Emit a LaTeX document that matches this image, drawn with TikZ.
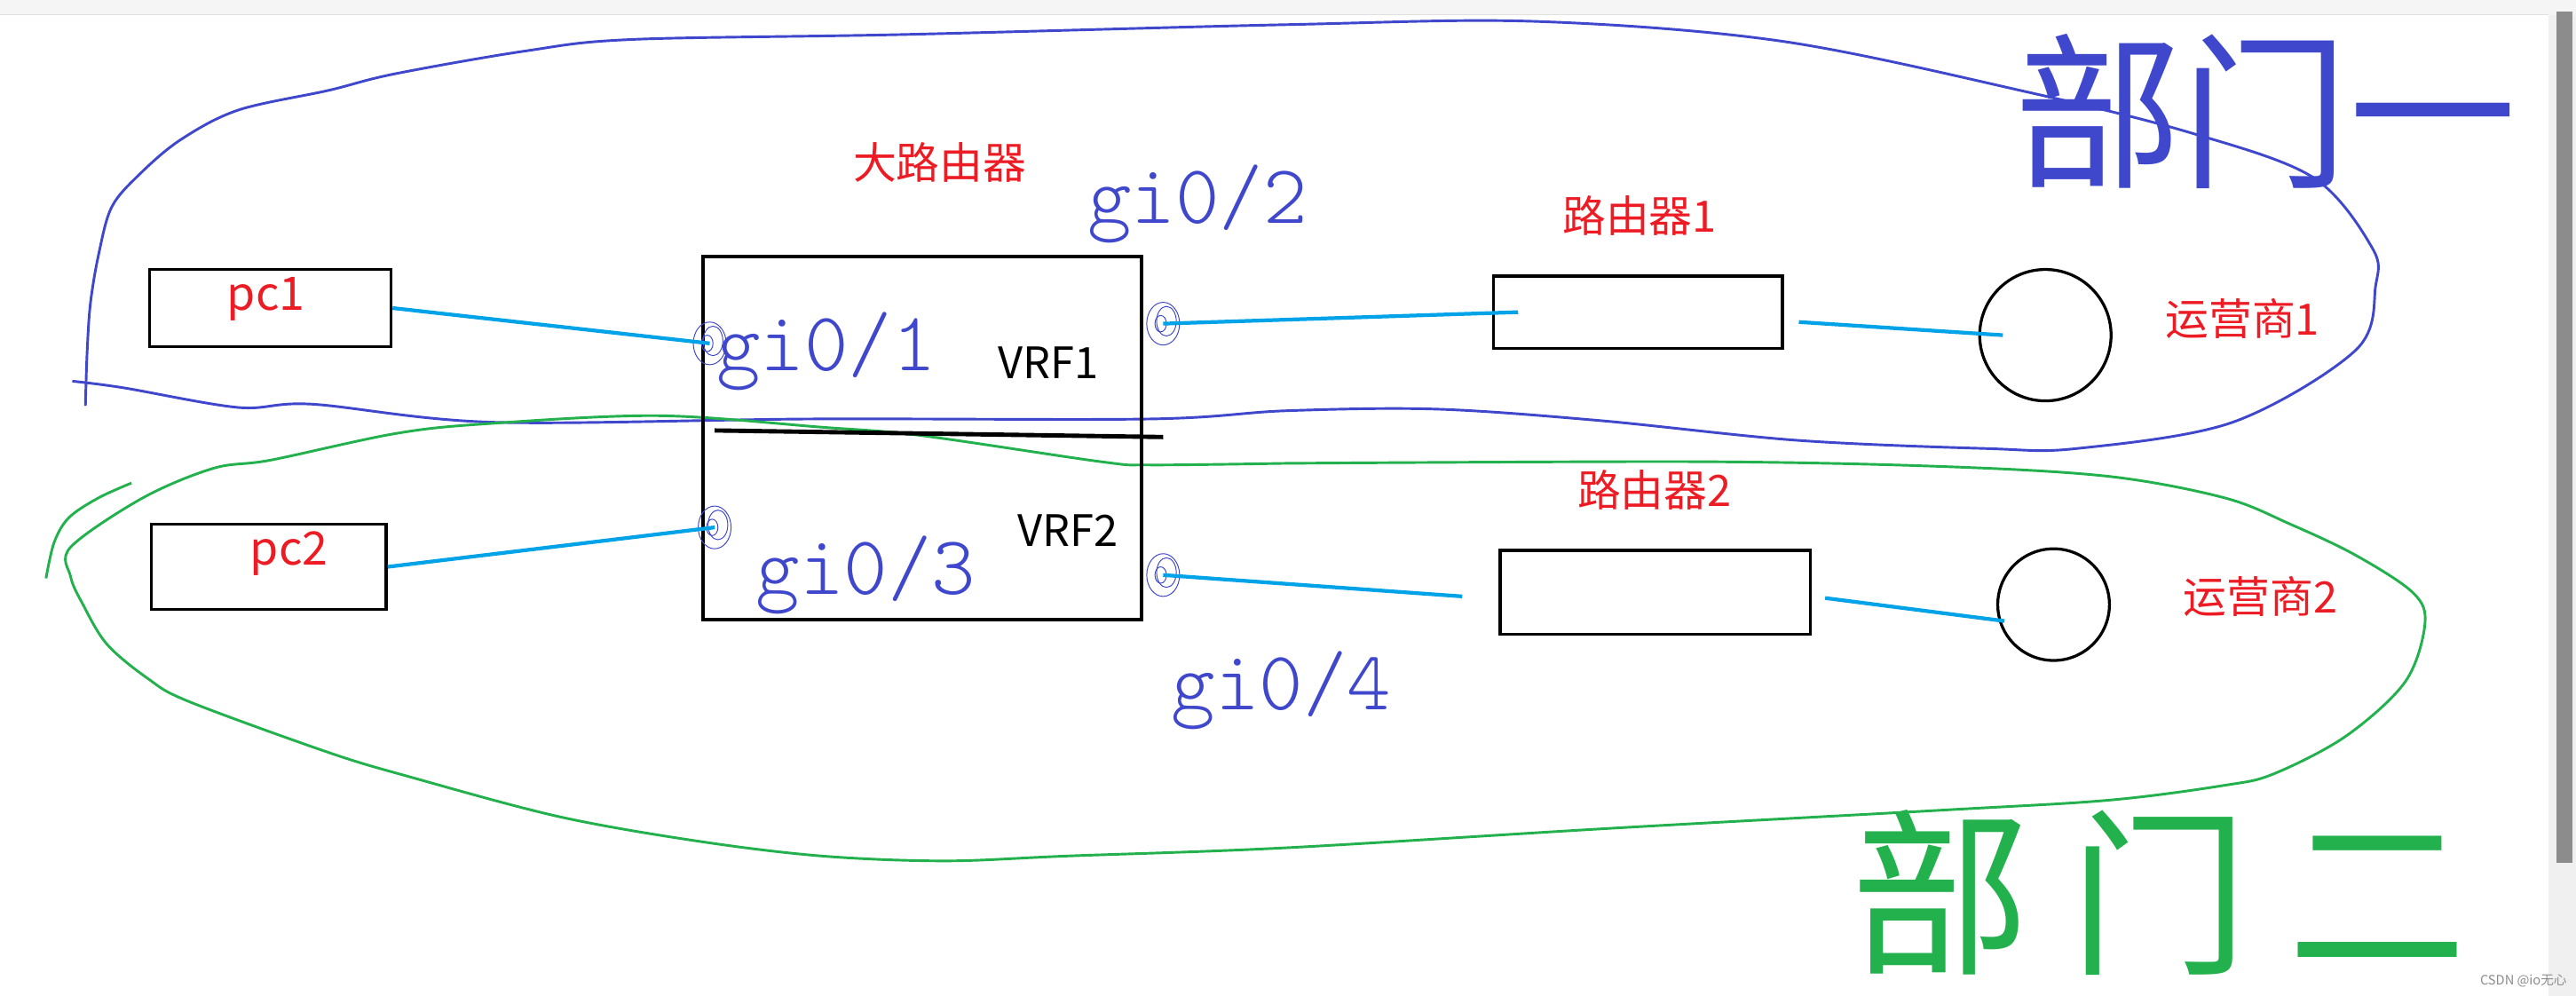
\documentclass[tikz,border=0pt]{standalone}
\usepackage{fontspec}
\setmainfont{Noto Sans CJK SC}
\newfontfamily\handfont{lmmonolt10-regular.otf}
\usetikzlibrary{calc}
\definecolor{LinkClr}{RGB}{0,162,232}
\definecolor{TextClr}{RGB}{237,28,36}
\definecolor{DeptOneClr}{RGB}{63,72,204}
\definecolor{DeptTwoClr}{RGB}{34,177,76}

\begin{document}
\begin{tikzpicture}[x=0.02cm,y=-0.02cm,
  box/.style={draw,line width=1.1pt,inner sep=0pt},
  isp/.style={draw,circle,line width=1pt,inner sep=0pt},
  lbl/.style={text=TextClr,font=\fontsize{15}{18}\selectfont},
  vrf/.style={font=\fontsize{15}{18}\selectfont},
  link/.style={LinkClr,line width=1.3pt},
  hand/.style={DeptOneClr,font=\handfont\fontsize{29}{29}\selectfont},
  port/.style={DeptOneClr,line width=0.3pt},
  loop/.style={line width=0.9pt,smooth,tension=0.55}]

\useasboundingbox (0,0) rectangle (1568,606);
\fill[white] (0,0) rectangle (1568,606);
% window frame
\fill[black!4] (0,0) rectangle (1568,9);
\draw[black!12] (0,9) -- (1551,9);
\fill[black!6] (1551,9) rectangle (1568,606);
\fill[black!45] (1556,7) rectangle (1566,525);

% departments
\draw[DeptOneClr,loop] plot coordinates {(52,247) (53,215) (55,185) (60,155) (68,126)
  (85,106) (110,85) (145,67) (200,55) (240,45) (320,31) (385,24) (550,21) (783,15)
  (934,13) (1084,25) (1234,56) (1334,81) (1408,108) (1444,151) (1446,174) (1434,213)
  (1359,257) (1264,273) (1209,273) (1094,268) (974,256) (874,249) (783,250) (700,255)
  (495,255) (300,257) (190,246) (145,248) (75,236) (44,232)};
\draw[DeptTwoClr,loop] plot coordinates {(783,282) (700,283) (670,281) (560,265)
  (500,260) (400,253) (295,258) (240,264) (165,280) (130,285) (87,303) (43,333)
  (43,351) (50,367) (65,392) (90,413) (115,427) (200,458) (250,473) (340,497)
  (425,512) (500,521) (575,524) (650,521) (783,516) (983,504) (1184,493) (1284,487)
  (1354,478) (1384,471) (1428,448) (1464,415) (1476,380) (1469,361) (1434,338)
  (1394,319) (1354,303) (1284,290) (1184,284) (1034,281) (783,282)};
\draw[DeptTwoClr,loop] plot coordinates {(28,352) (33,330) (42,315) (60,303) (80,294)};

\node[DeptOneClr,font=\fontsize{58}{58}\selectfont] (dept1) at (1379,68) {部门一};
\node[DeptTwoClr,inner sep=0pt,font=\fontsize{62}{62}\selectfont] (dept2) at (1314,543)
  {部\hspace{0.22em}门\hspace{0.22em}二};

% devices
\node[box,minimum width=2.94cm,minimum height=0.94cm] (pc1) at (164.5,187.5) {};
\node[box,minimum width=2.86cm,minimum height=1.04cm] (pc2) at (163.5,345) {};
\node[box,minimum width=5.34cm,minimum height=4.42cm] (big) at (561.5,266.5) {};
\node[box,minimum width=3.52cm,minimum height=0.88cm] (r1) at (997,190) {};
\node[box,minimum width=3.78cm,minimum height=1.02cm] (r2) at (1007.5,360.5) {};
\node[isp,minimum size=1.6cm] (isp1) at (1245,204) {};
\node[isp,minimum size=1.36cm] (isp2) at (1250,368) {};
\draw[line width=1.5pt] (435,262) -- (708,266);

\node[lbl,font=\fontsize{16}{18}\selectfont] (pc1t) at (162,182) {pc1};
\node[lbl,font=\fontsize{16}{18}\selectfont] (pc2t) at (176,337) {pc2};
\node[lbl] (bigt) at (572,99) {大路由器};
\node[lbl] (r1t) at (998,131) {路由器1};
\node[lbl] (r2t) at (1007,298) {路由器2};
\node[lbl] (isp1t) at (1365,194) {运营商1};
\node[lbl] (isp2t) at (1376,363) {运营商2};
\node[vrf] (vrf1) at (638,221) {VRF1};
\node[vrf] (vrf2) at (650,323) {VRF2};

% ports
\coordinate (g01) at (432,209);
\coordinate (g02) at (708,197);
\coordinate (g03) at (435,321);
\coordinate (g04) at (708,350);
\foreach \p in {g01,g02,g03,g04}{
  \draw[port] (\p) ellipse (0.2cm and 0.26cm);
  \draw[port] ([xshift=0.04cm,yshift=0.03cm]\p) ellipse (0.12cm and 0.18cm);
  \draw[port] ([xshift=-0.03cm]\p) ellipse (0.07cm and 0.1cm);
}
\node[hand] (h01) at (503,214) {gi0/1};
\node[hand] (h02) at (729,124) {gi0/2};
\node[hand] (h03) at (527,350) {gi0/3};
\node[hand] (h04) at (780,420) {gi0/4};

% links
\draw[link] (pc1.east) -- (g01);
\draw[link] (pc2.east) -- (g03);
\draw[link] (g02) -- ([xshift=0.32cm]r1.west);
\draw[link] ([xshift=0.18cm,yshift=-0.12cm]r1.east) -- ([xshift=0.3cm]isp1.west);
\draw[link] (g04) -- ([xshift=-0.44cm,yshift=-0.05cm]r2.west);
\draw[link] ([xshift=0.16cm,yshift=-0.07cm]r2.east) -- ([xshift=0.1cm,yshift=-0.2cm]isp2.west);

\node[inner sep=0pt,text=black!45,font=\fontsize{4.5}{5}\selectfont] (mark) at (1536,597) {CSDN @io无心};
\end{tikzpicture}
\end{document}
